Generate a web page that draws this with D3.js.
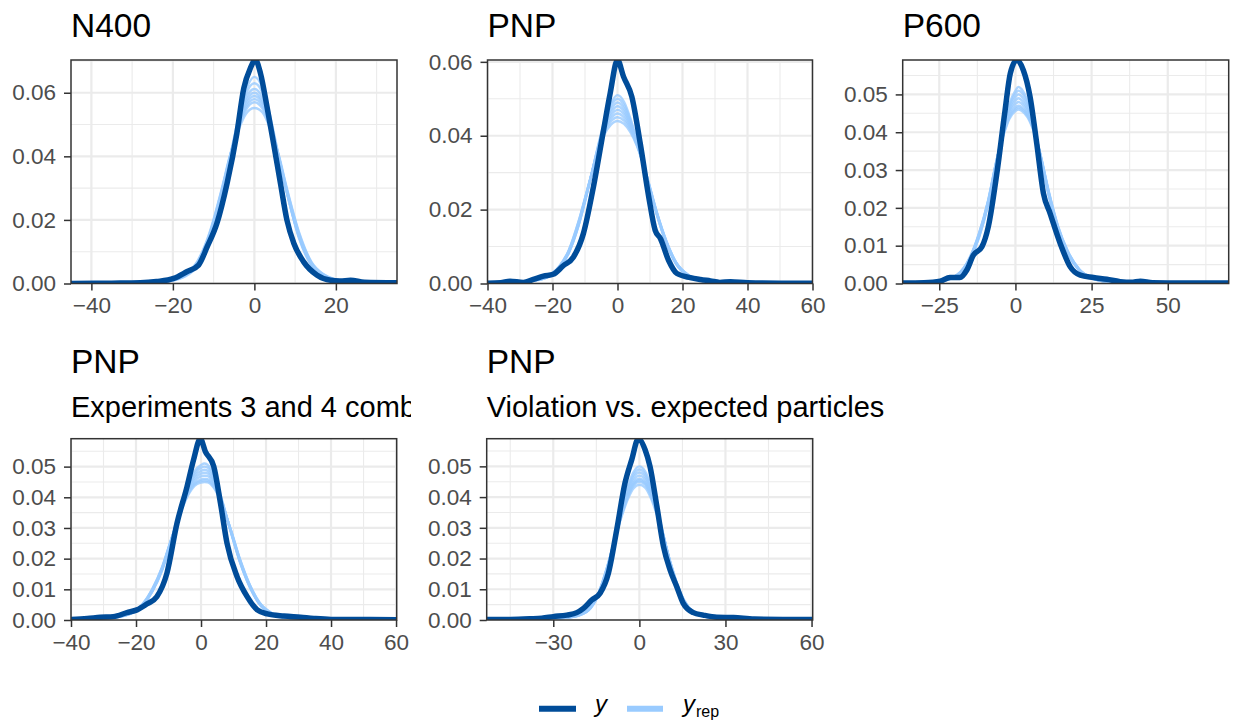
<!DOCTYPE html>
<html>
<head>
<meta charset="utf-8">
<script src="https://cdn.jsdelivr.net/npm/d3@7"></script>
<style>
  html, body { margin: 0; padding: 0; background: #ffffff; }
  svg { display: block; font-family: "Liberation Sans", Arial, Helvetica, sans-serif; }
</style>
</head>
<body>
<svg id="chart" width="1233" height="723"></svg>
<script>
// ---------- panel labels ----------
const panelTitles = ["N400", "PNP", "P600", "PNP", "PNP"];
const panelSubtitles = ["", "", "", "Experiments 3 and 4 combined", "Violation vs. expected particles"];

// ---------- observed densities (y) ----------
const obsX_N400 = [-45, -35, -28, -24, -19.8, -16.6, -13.7, -11.6, -9.2, -6.7, -4.3, -2.6, -1.0, 0.25, 1.5, 3.1, 4.7, 6.4, 8.0, 9.7, 12.1, 15.4, 18.7, 21, 23.6, 27, 35];
const obsY_N400 = [0, 0.0001, 0.0002, 0.0006, 0.0016, 0.0037, 0.0058, 0.0115, 0.0189, 0.0315, 0.0472, 0.0614, 0.0677, 0.0703, 0.0661, 0.0556, 0.0441, 0.0315, 0.0199, 0.0126, 0.0068, 0.0026, 0.0010, 0.0008, 0.0010, 0.0004, 0.0002];

const obsX_PNP = [-40, -36, -33.1, -29, -25.9, -22.8, -19.8, -16.7, -13.6, -10.5, -7.4, -4.3, -2.25, 0, 1.85, 4.4, 7.0, 9.6, 11.6, 13.2, 15.7, 18.3, 22.4, 25.5, 28.6, 31.5, 34.8, 40, 50, 60];
const obsY_PNP = [0.0001, 0.0002, 0.0006, 0.0003, 0.0011, 0.0020, 0.0025, 0.0048, 0.0071, 0.0135, 0.0262, 0.0415, 0.0515, 0.0605, 0.0560, 0.0506, 0.0379, 0.0235, 0.0144, 0.0122, 0.0063, 0.0027, 0.0016, 0.0011, 0.0007, 0.0003, 0.0005, 0.0002, 0.0001, 0.0001];

const obsX_P600 = [-37, -30, -24.7, -21.5, -18.2, -16.0, -13.8, -11.0, -8.9, -6.1, -3.4, -1.7, 0.45, 2.6, 4.8, 7.0, 9.2, 11.4, 14.7, 18.0, 21.3, 25.6, 30.0, 34.4, 38, 41, 45, 55, 70];
const obsY_P600 = [0.0001, 0.0002, 0.0006, 0.0016, 0.0016, 0.0035, 0.0075, 0.0097, 0.0150, 0.0291, 0.0458, 0.0555, 0.0591, 0.0564, 0.0494, 0.0370, 0.0238, 0.0185, 0.0106, 0.0044, 0.0022, 0.0016, 0.0011, 0.0005, 0.0003, 0.0006, 0.0002, 0.0001, 0.0001];

const obsX_Exp34 = [-40, -35, -31, -27, -22.8, -19.7, -16.7, -13.6, -10.5, -7.4, -4.3, -2.3, -0.2, 1.3, 3.9, 6.0, 8.0, 11.1, 14.2, 17.3, 20.4, 25.5, 30.6, 34.7, 40, 50, 60.2];
const obsY_Exp34 = [0.0002, 0.0005, 0.0009, 0.0011, 0.0024, 0.0033, 0.0052, 0.0076, 0.0152, 0.0315, 0.0435, 0.0522, 0.0591, 0.0550, 0.0501, 0.0380, 0.0250, 0.0141, 0.0076, 0.0033, 0.0020, 0.0013, 0.0009, 0.0005, 0.0002, 0.0002, 0.0001];

const obsX_Viol = [-53.2, -45, -38, -34, -30, -25.3, -21.8, -19.5, -16.6, -13.7, -10.8, -7.9, -5.0, -2.65, -0.35, 2.0, 3.7, 6.1, 8.4, 10.7, 13.0, 15.3, 18.8, 22.3, 27, 32.8, 40, 50, 60.4];
const obsY_Viol = [0.0002, 0.0002, 0.0004, 0.0006, 0.0011, 0.0016, 0.0024, 0.0038, 0.0065, 0.0087, 0.0152, 0.0293, 0.0446, 0.0522, 0.0590, 0.0554, 0.0500, 0.0370, 0.0239, 0.0163, 0.0109, 0.0054, 0.0024, 0.0016, 0.0009, 0.0008, 0.0003, 0.0002, 0.0002];

// ---------- replicated densities (y_rep) ----------
const repX_N400 = [-45, -30, -24, -20, -17, -14, -11, -8, -6, -4, -2, 0, 2, 4, 6, 8, 11, 14, 17, 20, 24, 30, 35];
const repY_N400 = [
  [0, 0.0001, 0.0003, 0.0009, 0.0022, 0.0055, 0.0138, 0.0282, 0.0398, 0.0515, 0.0610, 0.0650, 0.0615, 0.0520, 0.0400, 0.0285, 0.0140, 0.0056, 0.0022, 0.0008, 0.0002, 0.0001, 0],
  [0, 0.0001, 0.0004, 0.0010, 0.0024, 0.0058, 0.0142, 0.0285, 0.0396, 0.0508, 0.0598, 0.0630, 0.0600, 0.0510, 0.0398, 0.0286, 0.0144, 0.0058, 0.0023, 0.0009, 0.0003, 0.0001, 0],
  [0, 0.0001, 0.0004, 0.0011, 0.0025, 0.0060, 0.0145, 0.0283, 0.0392, 0.0500, 0.0585, 0.0612, 0.0584, 0.0500, 0.0395, 0.0287, 0.0147, 0.0060, 0.0024, 0.0009, 0.0003, 0.0001, 0],
  [0, 0.0001, 0.0004, 0.0011, 0.0026, 0.0062, 0.0148, 0.0287, 0.0394, 0.0496, 0.0574, 0.0600, 0.0572, 0.0494, 0.0393, 0.0284, 0.0145, 0.0061, 0.0025, 0.0010, 0.0003, 0.0001, 0],
  [0, 0.0001, 0.0005, 0.0012, 0.0027, 0.0063, 0.0150, 0.0290, 0.0397, 0.0492, 0.0565, 0.0590, 0.0566, 0.0492, 0.0396, 0.0289, 0.0150, 0.0063, 0.0026, 0.0010, 0.0003, 0.0001, 0],
  [0, 0.0001, 0.0005, 0.0012, 0.0028, 0.0065, 0.0154, 0.0292, 0.0398, 0.0488, 0.0556, 0.0580, 0.0558, 0.0490, 0.0398, 0.0292, 0.0153, 0.0064, 0.0027, 0.0011, 0.0004, 0.0001, 0],
  [0, 0.0001, 0.0005, 0.0013, 0.0029, 0.0067, 0.0157, 0.0295, 0.0400, 0.0485, 0.0548, 0.0570, 0.0550, 0.0487, 0.0400, 0.0295, 0.0156, 0.0066, 0.0028, 0.0011, 0.0004, 0.0001, 0],
  [0, 0.0001, 0.0006, 0.0014, 0.0031, 0.0070, 0.0160, 0.0298, 0.0402, 0.0480, 0.0535, 0.0552, 0.0538, 0.0482, 0.0403, 0.0298, 0.0160, 0.0068, 0.0029, 0.0012, 0.0004, 0.0001, 0]
];

const repX_PNP = [-40, -32, -26, -22, -18, -15, -12, -9, -6, -4, -2, 0, 2, 4, 6, 9, 12, 15, 18, 22, 26, 32, 40, 50, 60];
const repY_PNP = [
  [0.0001, 0.0003, 0.0007, 0.0015, 0.0040, 0.0082, 0.0156, 0.0257, 0.0372, 0.0440, 0.0488, 0.0510, 0.0492, 0.0446, 0.0386, 0.0286, 0.0189, 0.0109, 0.0053, 0.0019, 0.0008, 0.0003, 0.0001, 0, 0],
  [0.0001, 0.0003, 0.0008, 0.0015, 0.0041, 0.0083, 0.0157, 0.0258, 0.0370, 0.0435, 0.0480, 0.0500, 0.0483, 0.0441, 0.0384, 0.0287, 0.0190, 0.0110, 0.0054, 0.0019, 0.0008, 0.0003, 0.0001, 0, 0],
  [0.0001, 0.0003, 0.0008, 0.0016, 0.0041, 0.0084, 0.0158, 0.0259, 0.0367, 0.0430, 0.0471, 0.0490, 0.0474, 0.0435, 0.0382, 0.0287, 0.0191, 0.0111, 0.0054, 0.0020, 0.0009, 0.0003, 0.0001, 0, 0],
  [0.0001, 0.0003, 0.0008, 0.0016, 0.0042, 0.0085, 0.0160, 0.0260, 0.0365, 0.0425, 0.0463, 0.0480, 0.0466, 0.0430, 0.0380, 0.0288, 0.0192, 0.0112, 0.0055, 0.0020, 0.0009, 0.0003, 0.0001, 0, 0],
  [0.0001, 0.0003, 0.0008, 0.0017, 0.0043, 0.0086, 0.0162, 0.0261, 0.0363, 0.0420, 0.0455, 0.0470, 0.0458, 0.0425, 0.0378, 0.0289, 0.0193, 0.0113, 0.0056, 0.0021, 0.0009, 0.0003, 0.0001, 0, 0],
  [0.0001, 0.0004, 0.0009, 0.0017, 0.0044, 0.0088, 0.0164, 0.0262, 0.0361, 0.0415, 0.0447, 0.0460, 0.0449, 0.0420, 0.0376, 0.0290, 0.0194, 0.0114, 0.0057, 0.0021, 0.0009, 0.0004, 0.0001, 0, 0],
  [0.0001, 0.0004, 0.0009, 0.0018, 0.0045, 0.0089, 0.0166, 0.0263, 0.0359, 0.0410, 0.0439, 0.0450, 0.0441, 0.0415, 0.0374, 0.0291, 0.0195, 0.0115, 0.0057, 0.0022, 0.0010, 0.0004, 0.0001, 0, 0],
  [0.0001, 0.0004, 0.0009, 0.0018, 0.0046, 0.0090, 0.0168, 0.0264, 0.0357, 0.0404, 0.0430, 0.0440, 0.0432, 0.0409, 0.0372, 0.0292, 0.0196, 0.0116, 0.0058, 0.0022, 0.0010, 0.0004, 0.0001, 0, 0]
];

const repX_P600 = [-37, -29, -24, -19, -15, -12, -9, -6, -4, -2, 0, 1, 2, 4, 6, 8, 11, 14, 17, 21, 26, 31, 40, 55, 70];
const repY_P600 = [
  [0, 0.0003, 0.0007, 0.0021, 0.0062, 0.0120, 0.0207, 0.0330, 0.0410, 0.0475, 0.0510, 0.0520, 0.0514, 0.0482, 0.0422, 0.0344, 0.0230, 0.0141, 0.0082, 0.0034, 0.0011, 0.0004, 0.0001, 0, 0],
  [0, 0.0003, 0.0007, 0.0021, 0.0063, 0.0122, 0.0209, 0.0330, 0.0406, 0.0468, 0.0502, 0.0510, 0.0505, 0.0475, 0.0418, 0.0344, 0.0232, 0.0142, 0.0083, 0.0034, 0.0011, 0.0004, 0.0001, 0, 0],
  [0, 0.0003, 0.0007, 0.0022, 0.0064, 0.0124, 0.0211, 0.0330, 0.0403, 0.0461, 0.0493, 0.0500, 0.0495, 0.0467, 0.0415, 0.0345, 0.0233, 0.0144, 0.0084, 0.0035, 0.0011, 0.0004, 0.0001, 0, 0],
  [0, 0.0003, 0.0007, 0.0022, 0.0065, 0.0125, 0.0212, 0.0330, 0.0400, 0.0455, 0.0484, 0.0490, 0.0485, 0.0460, 0.0412, 0.0345, 0.0235, 0.0145, 0.0085, 0.0035, 0.0011, 0.0004, 0.0001, 0, 0],
  [0, 0.0003, 0.0008, 0.0023, 0.0066, 0.0127, 0.0214, 0.0331, 0.0397, 0.0449, 0.0475, 0.0480, 0.0476, 0.0453, 0.0409, 0.0346, 0.0237, 0.0147, 0.0086, 0.0036, 0.0012, 0.0004, 0.0001, 0, 0],
  [0, 0.0003, 0.0008, 0.0023, 0.0067, 0.0129, 0.0216, 0.0332, 0.0394, 0.0443, 0.0466, 0.0470, 0.0467, 0.0447, 0.0406, 0.0347, 0.0239, 0.0149, 0.0087, 0.0036, 0.0012, 0.0004, 0.0001, 0, 0],
  [0, 0.0003, 0.0008, 0.0024, 0.0068, 0.0130, 0.0217, 0.0332, 0.0392, 0.0439, 0.0461, 0.0465, 0.0462, 0.0443, 0.0404, 0.0347, 0.0240, 0.0150, 0.0088, 0.0037, 0.0012, 0.0004, 0.0001, 0, 0],
  [0, 0.0004, 0.0009, 0.0024, 0.0069, 0.0132, 0.0219, 0.0333, 0.0390, 0.0435, 0.0456, 0.0460, 0.0457, 0.0439, 0.0402, 0.0348, 0.0242, 0.0152, 0.0089, 0.0037, 0.0013, 0.0004, 0.0001, 0, 0]
];

const repX_Exp34 = [-40, -32, -26, -22, -18, -15, -12, -9, -6, -4, -2, 0, 1, 2, 4, 6, 9, 12, 15, 18, 22, 26, 32, 40, 50, 60.2];
const repY_Exp34 = [
  [0.0001, 0.0003, 0.0009, 0.0019, 0.0046, 0.0092, 0.0161, 0.0262, 0.0375, 0.0438, 0.0485, 0.0505, 0.0510, 0.0506, 0.0470, 0.0408, 0.0293, 0.0188, 0.0107, 0.0051, 0.0018, 0.0008, 0.0003, 0.0001, 0, 0],
  [0.0001, 0.0004, 0.0009, 0.0019, 0.0047, 0.0093, 0.0162, 0.0263, 0.0373, 0.0433, 0.0478, 0.0496, 0.0500, 0.0497, 0.0463, 0.0404, 0.0294, 0.0189, 0.0108, 0.0052, 0.0018, 0.0008, 0.0003, 0.0001, 0, 0],
  [0.0001, 0.0004, 0.0010, 0.0020, 0.0047, 0.0094, 0.0164, 0.0264, 0.0370, 0.0428, 0.0470, 0.0486, 0.0490, 0.0487, 0.0456, 0.0401, 0.0295, 0.0191, 0.0109, 0.0052, 0.0019, 0.0008, 0.0003, 0.0001, 0, 0],
  [0.0001, 0.0004, 0.0010, 0.0020, 0.0048, 0.0095, 0.0165, 0.0265, 0.0368, 0.0423, 0.0462, 0.0477, 0.0480, 0.0478, 0.0450, 0.0398, 0.0296, 0.0192, 0.0110, 0.0053, 0.0019, 0.0008, 0.0003, 0.0001, 0, 0],
  [0.0001, 0.0004, 0.0010, 0.0021, 0.0049, 0.0097, 0.0167, 0.0266, 0.0365, 0.0418, 0.0454, 0.0468, 0.0470, 0.0469, 0.0444, 0.0395, 0.0297, 0.0193, 0.0111, 0.0054, 0.0020, 0.0009, 0.0003, 0.0001, 0, 0],
  [0.0001, 0.0004, 0.0011, 0.0021, 0.0050, 0.0098, 0.0169, 0.0267, 0.0362, 0.0413, 0.0446, 0.0458, 0.0460, 0.0459, 0.0438, 0.0392, 0.0298, 0.0195, 0.0113, 0.0055, 0.0020, 0.0009, 0.0003, 0.0001, 0, 0],
  [0.0001, 0.0004, 0.0011, 0.0022, 0.0051, 0.0100, 0.0170, 0.0268, 0.0360, 0.0410, 0.0442, 0.0453, 0.0455, 0.0454, 0.0434, 0.0390, 0.0299, 0.0196, 0.0114, 0.0056, 0.0021, 0.0009, 0.0003, 0.0001, 0, 0],
  [0.0001, 0.0005, 0.0011, 0.0022, 0.0052, 0.0101, 0.0172, 0.0269, 0.0358, 0.0406, 0.0437, 0.0448, 0.0450, 0.0449, 0.0430, 0.0388, 0.0300, 0.0198, 0.0115, 0.0057, 0.0021, 0.0009, 0.0004, 0.0001, 0, 0]
];

const repX_Viol = [-53.2, -40, -32, -26, -21, -17, -14, -11, -8, -6, -4, -2, 0, 2, 4, 6, 8, 11, 14, 17, 21, 26, 32, 40, 50, 60.4];
const repY_Viol = [
  [0, 0.0001, 0.0003, 0.0007, 0.0015, 0.0038, 0.0087, 0.0172, 0.0290, 0.0368, 0.0435, 0.0482, 0.0500, 0.0484, 0.0438, 0.0370, 0.0292, 0.0174, 0.0089, 0.0039, 0.0015, 0.0007, 0.0003, 0.0001, 0, 0],
  [0, 0.0001, 0.0003, 0.0007, 0.0015, 0.0039, 0.0088, 0.0173, 0.0288, 0.0364, 0.0428, 0.0473, 0.0490, 0.0475, 0.0431, 0.0366, 0.0290, 0.0175, 0.0090, 0.0040, 0.0015, 0.0007, 0.0003, 0.0001, 0, 0],
  [0, 0.0001, 0.0003, 0.0007, 0.0016, 0.0039, 0.0089, 0.0174, 0.0287, 0.0360, 0.0422, 0.0464, 0.0480, 0.0466, 0.0425, 0.0362, 0.0289, 0.0176, 0.0091, 0.0040, 0.0016, 0.0007, 0.0003, 0.0001, 0, 0],
  [0, 0.0001, 0.0003, 0.0007, 0.0016, 0.0040, 0.0090, 0.0175, 0.0285, 0.0355, 0.0415, 0.0455, 0.0470, 0.0457, 0.0418, 0.0358, 0.0288, 0.0178, 0.0092, 0.0041, 0.0016, 0.0007, 0.0003, 0.0001, 0, 0],
  [0, 0.0001, 0.0003, 0.0008, 0.0017, 0.0041, 0.0091, 0.0177, 0.0284, 0.0351, 0.0409, 0.0447, 0.0460, 0.0449, 0.0412, 0.0354, 0.0287, 0.0179, 0.0093, 0.0042, 0.0017, 0.0008, 0.0003, 0.0001, 0, 0],
  [0, 0.0001, 0.0004, 0.0008, 0.0017, 0.0042, 0.0092, 0.0178, 0.0283, 0.0348, 0.0405, 0.0442, 0.0455, 0.0444, 0.0408, 0.0351, 0.0286, 0.0180, 0.0094, 0.0043, 0.0017, 0.0008, 0.0004, 0.0001, 0, 0],
  [0, 0.0001, 0.0004, 0.0008, 0.0018, 0.0042, 0.0093, 0.0179, 0.0282, 0.0346, 0.0401, 0.0438, 0.0450, 0.0440, 0.0404, 0.0349, 0.0285, 0.0181, 0.0095, 0.0043, 0.0018, 0.0008, 0.0004, 0.0001, 0, 0],
  [0, 0.0001, 0.0004, 0.0008, 0.0018, 0.0043, 0.0094, 0.0180, 0.0280, 0.0342, 0.0394, 0.0429, 0.0440, 0.0431, 0.0397, 0.0345, 0.0283, 0.0182, 0.0096, 0.0044, 0.0018, 0.0008, 0.0004, 0.0001, 0, 0]
];

// ---------- axis ticks ----------
const xTicks  = [[-40, -20, 0, 20], [-40, -20, 0, 20, 40, 60], [-25, 0, 25, 50], [-40, -20, 0, 20, 40, 60], [-30, 0, 30, 60]];
const xMinor  = [[-30, -10, 10, 30], [-30, -10, 10, 30, 50], [-12.5, 12.5, 37.5, 62.5], [-30, -10, 10, 30, 50], [-45, -15, 15, 45]];
const yTicks  = [[0, 0.02, 0.04, 0.06], [0, 0.02, 0.04, 0.06], [0, 0.01, 0.02, 0.03, 0.04, 0.05], [0, 0.01, 0.02, 0.03, 0.04, 0.05], [0, 0.01, 0.02, 0.03, 0.04, 0.05]];
const yMinor  = [[0.01, 0.03, 0.05, 0.07], [0.01, 0.03, 0.05], [0.005, 0.015, 0.025, 0.035, 0.045, 0.055], [0.005, 0.015, 0.025, 0.035, 0.045, 0.055], [0.005, 0.015, 0.025, 0.035, 0.045, 0.055]];

// ---------- legend ----------
const legendLabels = ["y", "y"];
const legendSub = ["", "rep"];

// ---------- assemble series ----------
const obsX = [obsX_N400, obsX_PNP, obsX_P600, obsX_Exp34, obsX_Viol];
const obsY = [obsY_N400, obsY_PNP, obsY_P600, obsY_Exp34, obsY_Viol];
const repX = [repX_N400, repX_PNP, repX_P600, repX_Exp34, repX_Viol];
const repY = [repY_N400, repY_PNP, repY_P600, repY_Exp34, repY_Viol];

// ---------- layout ----------
const layout = [
  { left: 71,    right: 397,    top: 60,    bottom: 283.5, titleY: 37.3,  subY: null,  clip: [0, 411] },
  { left: 487.5, right: 812.5,  top: 60,    bottom: 283.5, titleY: 37.3,  subY: null,  clip: [411, 822] },
  { left: 902.7, right: 1228.7, top: 60,    bottom: 283.5, titleY: 37.3,  subY: null,  clip: [822, 1233] },
  { left: 71,    right: 396.7,  top: 438.7, bottom: 620,   titleY: 373.3, subY: 416.7, clip: [0, 411] },
  { left: 486.7, right: 812.7,  top: 438.7, bottom: 620,   titleY: 373.3, subY: 416.7, clip: [411, 1233] }
];

const colY = "#004c99";
const colRep = "#99cbff";
const gridCol = "#ebebeb";

const svg = d3.select("#chart");
const defs = svg.append("defs");

layout.forEach((L, i) => {
  const g = svg.append("g");
  const w = L.right - L.left, h = L.bottom - L.top;

  const allX = obsX[i].concat(repX[i]);
  const allY = obsY[i].concat(...repY[i]);
  const x = d3.scaleLinear().domain(d3.extent(allX)).range([L.left, L.right]);
  const y = d3.scaleLinear().domain([0, d3.max(allY)]).range([L.bottom, L.top]);

  // clip regions
  defs.append("clipPath").attr("id", "plot" + i)
    .append("rect").attr("x", L.left).attr("y", L.top).attr("width", w).attr("height", h);
  defs.append("clipPath").attr("id", "cell" + i)
    .append("rect").attr("x", L.clip[0]).attr("y", 0).attr("width", L.clip[1] - L.clip[0]).attr("height", 723);

  // background
  g.append("rect").attr("x", L.left).attr("y", L.top).attr("width", w).attr("height", h).attr("fill", "#fff");

  // grid
  const grid = g.append("g").attr("clip-path", `url(#plot${i})`);
  grid.selectAll(".ymin").data(yMinor[i].filter(v => v <= y.domain()[1])).join("line")
    .attr("x1", L.left).attr("x2", L.right).attr("y1", d => y(d)).attr("y2", d => y(d))
    .attr("stroke", gridCol).attr("stroke-width", 1.1);
  grid.selectAll(".xmin").data(xMinor[i]).join("line")
    .attr("y1", L.top).attr("y2", L.bottom).attr("x1", d => x(d)).attr("x2", d => x(d))
    .attr("stroke", gridCol).attr("stroke-width", 1.1);
  grid.selectAll(".ymaj").data(yTicks[i]).join("line")
    .attr("x1", L.left).attr("x2", L.right).attr("y1", d => y(d)).attr("y2", d => y(d))
    .attr("stroke", gridCol).attr("stroke-width", 2.2);
  grid.selectAll(".xmaj").data(xTicks[i]).join("line")
    .attr("y1", L.top).attr("y2", L.bottom).attr("x1", d => x(d)).attr("x2", d => x(d))
    .attr("stroke", gridCol).attr("stroke-width", 2.2);

  // density curves
  const line = d3.line().curve(d3.curveMonotoneX);
  const curves = g.append("g").attr("clip-path", `url(#plot${i})`);
  repY[i].forEach(vals => {
    curves.append("path")
      .attr("d", line(repX[i].map((xv, k) => [x(xv), y(vals[k])])))
      .attr("fill", "none").attr("stroke", colRep).attr("stroke-width", 2.4)
      .attr("stroke-opacity", 0.8).attr("stroke-linejoin", "round");
  });
  curves.append("path")
    .attr("d", line(obsX[i].map((xv, k) => [x(xv), y(obsY[i][k])])))
    .attr("fill", "none").attr("stroke", colY).attr("stroke-width", 5.5)
    .attr("stroke-linejoin", "round").attr("stroke-linecap", "round");

  // panel border
  g.append("rect").attr("x", L.left).attr("y", L.top).attr("width", w).attr("height", h)
    .attr("fill", "none").attr("stroke", "#333333").attr("stroke-width", 1.5);

  // axes
  const yAxis = d3.axisLeft(y).tickValues(yTicks[i]).tickFormat(d3.format(".2f")).tickSize(7).tickPadding(8);
  const ya = g.append("g").attr("transform", `translate(${L.left},0)`).call(yAxis);
  const xAxis = d3.axisBottom(x).tickValues(xTicks[i]).tickFormat(d3.format("d")).tickSize(7).tickPadding(7);
  const xa = g.append("g").attr("transform", `translate(0,${L.bottom})`).call(xAxis);
  [ya, xa].forEach(a => {
    a.select(".domain").remove();
    a.selectAll(".tick line").attr("stroke", "#333333").attr("stroke-width", 1.5);
    a.selectAll(".tick text").attr("fill", "#4d4d4d")
      .style("font-size", "22.5px").style("font-family", '"Liberation Sans", Arial, sans-serif');
  });

  // titles
  const tg = g.append("g").attr("clip-path", `url(#cell${i})`);
  tg.append("text").attr("x", L.left).attr("y", L.titleY).text(panelTitles[i])
    .attr("fill", "#000").style("font-size", "33.5px");
  if (panelSubtitles[i]) {
    tg.append("text").attr("x", L.left).attr("y", L.subY).text(panelSubtitles[i])
      .attr("fill", "#000").style("font-size", "29px");
  }
});

// legend
const legend = svg.append("g");
const legendItems = [
  { x1: 539, x2: 576, tx: 595, color: colY },
  { x1: 627, x2: 663, tx: 683, color: colRep }
];
legendItems.forEach((it, k) => {
  legend.append("line").attr("x1", it.x1).attr("x2", it.x2).attr("y1", 708.7).attr("y2", 708.7)
    .attr("stroke", it.color).attr("stroke-width", 6);
  const t = legend.append("text").attr("x", it.tx).attr("y", 711.5).attr("fill", "#000")
    .style("font-size", "24px");
  t.append("tspan").text(legendLabels[k]).style("font-style", "italic");
  if (legendSub[k]) {
    t.append("tspan").text(legendSub[k]).attr("dy", 5).style("font-size", "16px").attr("dx", 1);
  }
});
</script>
</body>
</html>
